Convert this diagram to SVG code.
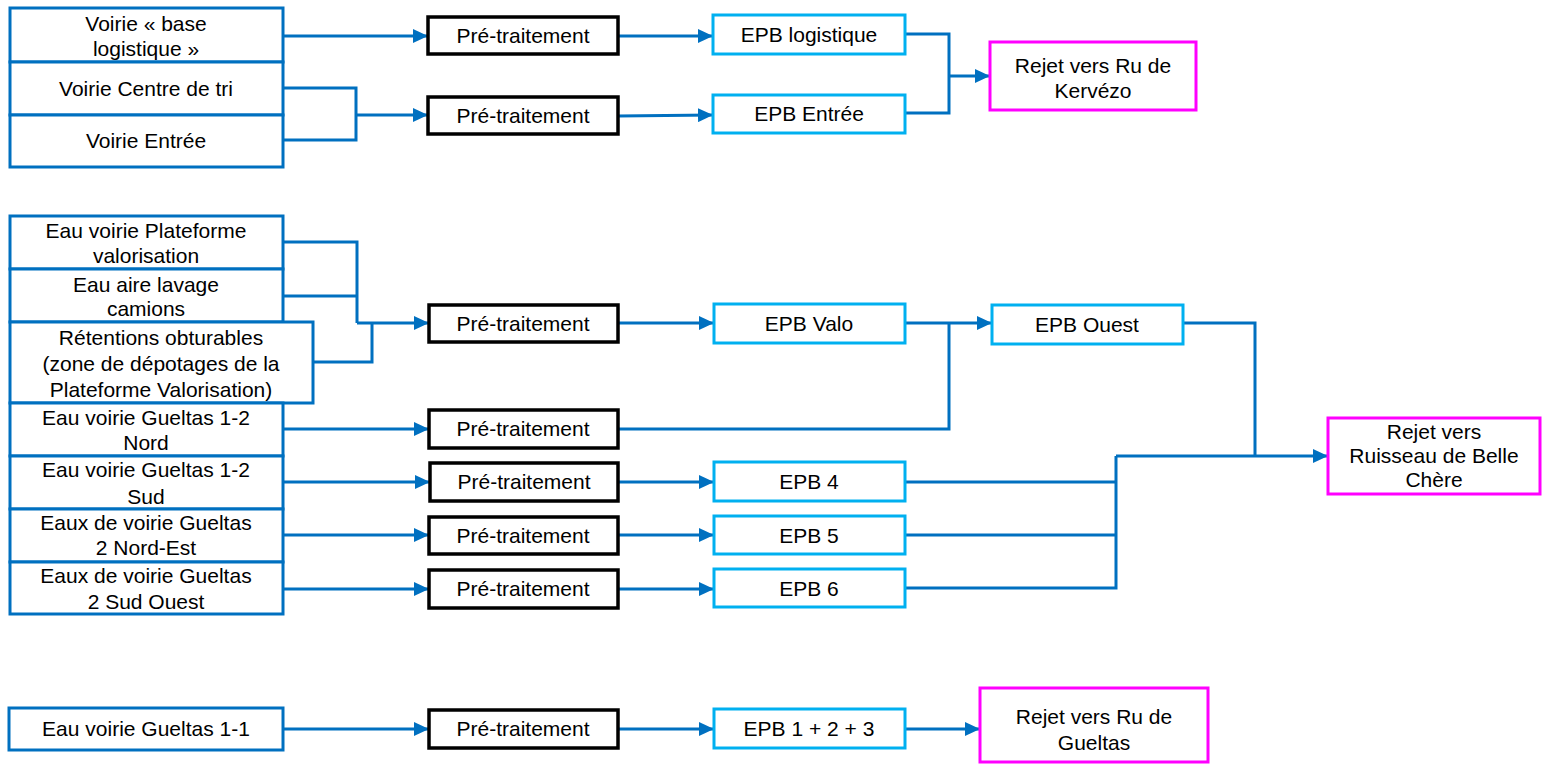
<svg xmlns="http://www.w3.org/2000/svg" width="1543" height="764" viewBox="0 0 1543 764">
<defs>
<marker id="arr" markerUnits="userSpaceOnUse" markerWidth="15" markerHeight="14" refX="15" refY="7" orient="auto"><path d="M0,0 L15,7 L0,14 z" fill="#0070C0"/></marker>
<style>
rect{fill:#fff;stroke-width:3}
.src{stroke:#0070C0}
.pre{stroke:#000;stroke-width:3.5}
.epb{stroke:#00B0F0}
.rej{stroke:#FF00FF}
text{font-family:"Liberation Sans",Arial,sans-serif;font-size:21px;fill:#000;text-anchor:middle}
.c path{fill:none;stroke:#0070C0;stroke-width:3}
</style>
</defs>
<rect x="0" y="0" width="1543" height="764" style="fill:#fff;stroke:none"/>
<g class="c" id="connectors">
<path d="M283,36 H428" marker-end="url(#arr)"/>
<path d="M283,88 H356 V140 H283"/>
<path d="M356,115 H428" marker-end="url(#arr)"/>
<path d="M618,36 H713" marker-end="url(#arr)"/>
<path d="M618,116 L713,115" marker-end="url(#arr)"/>
<path d="M905,34 H949 V113 H905"/>
<path d="M949,76 H990" marker-end="url(#arr)"/>
<path d="M283,242 H357 V323"/>
<path d="M283,296 H357"/>
<path d="M313,362 H372 V323"/>
<path d="M357,323 H429" marker-end="url(#arr)"/>
<path d="M618,323 H714" marker-end="url(#arr)"/>
<path d="M905,323 H992" marker-end="url(#arr)"/>
<path d="M949,323 V429 H618"/>
<path d="M283,429 H429" marker-end="url(#arr)"/>
<path d="M1183,323 H1255 V456"/>
<path d="M1116,456 H1328" marker-end="url(#arr)"/>
<path d="M905,482 H1116"/>
<path d="M905,535 H1116"/>
<path d="M905,588 H1116 V456"/>
<path d="M283,482 H430" marker-end="url(#arr)"/>
<path d="M283,535 H429" marker-end="url(#arr)"/>
<path d="M283,589 H429" marker-end="url(#arr)"/>
<path d="M618,482 H714" marker-end="url(#arr)"/>
<path d="M618,535 H714" marker-end="url(#arr)"/>
<path d="M618,589 H714" marker-end="url(#arr)"/>
<path d="M283,729 H429" marker-end="url(#arr)"/>
<path d="M618,729 H714" marker-end="url(#arr)"/>
<path d="M905,729 H980" marker-end="url(#arr)"/>
</g>
<g id="n-base-logistique"><rect class="src" x="10" y="8" width="273" height="54"/><text x="146" y="31">Voirie « base</text><text x="146" y="56">logistique »</text></g>
<g id="n-centre-tri"><rect class="src" x="10" y="62" width="273" height="53"/><text x="146" y="96">Voirie Centre de tri</text></g>
<g id="n-entree"><rect class="src" x="10" y="115" width="273" height="52"/><text x="146" y="148">Voirie Entrée</text></g>
<g id="n-pre1"><rect class="pre" x="428" y="17" width="190" height="37"/><text x="523" y="43">Pré-traitement</text></g>
<g id="n-pre2"><rect class="pre" x="428" y="97" width="190" height="37"/><text x="523" y="123">Pré-traitement</text></g>
<g id="n-epb-log"><rect class="epb" x="713" y="15" width="192" height="39"/><text x="809" y="42">EPB logistique</text></g>
<g id="n-epb-entree"><rect class="epb" x="713" y="95" width="192" height="38"/><text x="809" y="121">EPB Entrée</text></g>
<g id="n-rejet-kervezo"><rect class="rej" x="990" y="42" width="206" height="68"/><text x="1093" y="73">Rejet vers Ru de</text><text x="1093" y="98">Kervézo</text></g>
<g id="n-plateforme"><rect class="src" x="10" y="216" width="273" height="53"/><text x="146" y="238">Eau voirie Plateforme</text><text x="146" y="263">valorisation</text></g>
<g id="n-lavage"><rect class="src" x="10" y="269" width="273" height="53"/><text x="146" y="292">Eau aire lavage</text><text x="146" y="316">camions</text></g>
<g id="n-retentions"><rect class="src" x="10" y="322" width="303" height="81"/><text x="161" y="345">Rétentions obturables</text><text x="161" y="371">(zone de dépotages de la</text><text x="161" y="397">Plateforme Valorisation)</text></g>
<g id="n-g12-nord"><rect class="src" x="10" y="403" width="273" height="53"/><text x="146" y="425">Eau voirie Gueltas 1-2</text><text x="146" y="450">Nord</text></g>
<g id="n-g12-sud"><rect class="src" x="10" y="456" width="273" height="53"/><text x="146" y="477">Eau voirie Gueltas 1-2</text><text x="146" y="504">Sud</text></g>
<g id="n-g2-ne"><rect class="src" x="10" y="509" width="273" height="53"/><text x="146" y="530">Eaux de voirie Gueltas</text><text x="146" y="555">2 Nord-Est</text></g>
<g id="n-g2-so"><rect class="src" x="10" y="562" width="273" height="52"/><text x="146" y="583">Eaux de voirie Gueltas</text><text x="146" y="609">2 Sud Ouest</text></g>
<g id="n-pre3"><rect class="pre" x="429" y="305" width="189" height="37"/><text x="523" y="331">Pré-traitement</text></g>
<g id="n-pre4"><rect class="pre" x="429" y="410" width="189" height="38"/><text x="523" y="436">Pré-traitement</text></g>
<g id="n-epb-valo"><rect class="epb" x="714" y="304" width="191" height="39"/><text x="809" y="331">EPB Valo</text></g>
<g id="n-epb-ouest"><rect class="epb" x="992" y="305" width="191" height="39"/><text x="1087" y="332">EPB Ouest</text></g>
<g id="n-pre5"><rect class="pre" x="430" y="463" width="188" height="38"/><text x="524" y="489">Pré-traitement</text></g>
<g id="n-epb4"><rect class="epb" x="714" y="462" width="191" height="39"/><text x="809" y="489">EPB 4</text></g>
<g id="n-pre6"><rect class="pre" x="429" y="517" width="189" height="37"/><text x="523" y="543">Pré-traitement</text></g>
<g id="n-epb5"><rect class="epb" x="714" y="516" width="191" height="38"/><text x="809" y="543">EPB 5</text></g>
<g id="n-pre7"><rect class="pre" x="429" y="570" width="189" height="38"/><text x="523" y="596">Pré-traitement</text></g>
<g id="n-epb6"><rect class="epb" x="714" y="569" width="191" height="38"/><text x="809" y="596">EPB 6</text></g>
<g id="n-rejet-belle"><rect class="rej" x="1328" y="418" width="212" height="76"/><text x="1434" y="439">Rejet vers</text><text x="1434" y="463">Ruisseau de Belle</text><text x="1434" y="487">Chère</text></g>
<g id="n-g11"><rect class="src" x="9" y="708" width="274" height="42"/><text x="146" y="736">Eau voirie Gueltas 1-1</text></g>
<g id="n-pre8"><rect class="pre" x="429" y="710" width="189" height="38"/><text x="523" y="736">Pré-traitement</text></g>
<g id="n-epb123"><rect class="epb" x="714" y="709" width="191" height="39"/><text x="809" y="736">EPB 1 + 2 + 3</text></g>
<g id="n-rejet-gueltas"><rect class="rej" x="980" y="688" width="228" height="74"/><text x="1094" y="724">Rejet vers Ru de</text><text x="1094" y="750">Gueltas</text></g>
</svg>
